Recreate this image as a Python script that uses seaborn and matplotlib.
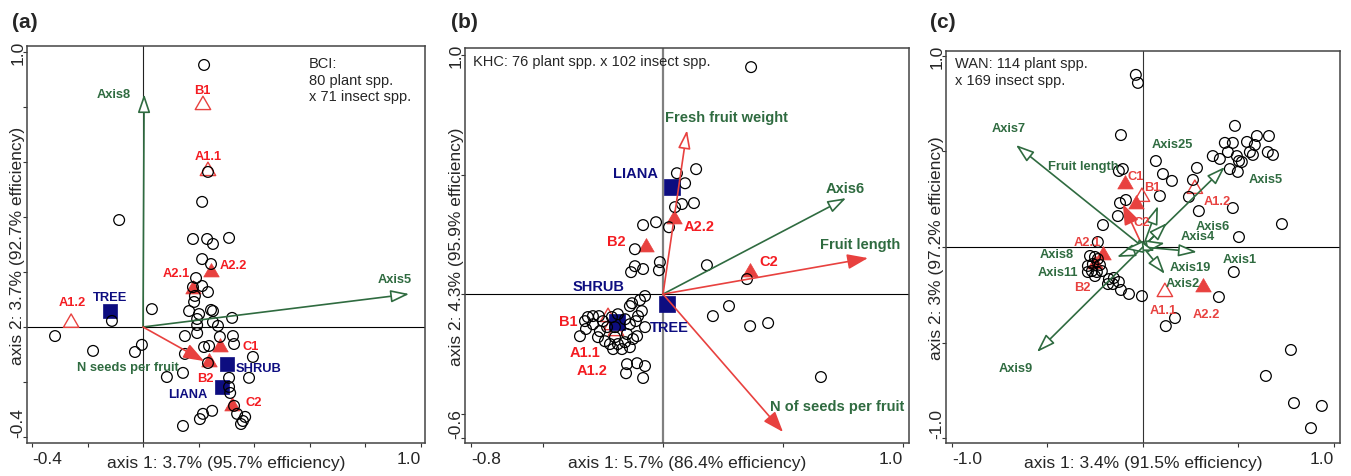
import numpy as np
import pandas as pd
import matplotlib
matplotlib.use("Agg")
import matplotlib.pyplot as plt
from matplotlib.path import Path
import seaborn as sns

# =====================================================
# STYLE
# =====================================================

sns.set_style("white")
plt.rcParams["font.family"] = ["Liberation Sans", "DejaVu Sans"]

RED = "#e8413f"
RED_TXT = "#f41c22"
GREEN = "#2f6b40"
NAVY = "#0d0d80"

# equilateral triangle marker (closed so open ones get all three edges)
TRIANGLE = Path([(0, 1), (-0.866, -0.5), (0.866, -0.5), (0, 1)], closed=True)

# =====================================================
# DATA: (a) BCI
# =====================================================

A_SPP_X = [0.220, 0.234, 0.213, -0.086, 0.180, 0.231, 0.252, 0.310, 0.213, 0.245,
           0.191, 0.180, 0.213, 0.234, 0.187, 0.184, 0.032, 0.166, 0.202, 0.245,
           0.252, -0.112, 0.195, 0.252, 0.321, 0.195, 0.270, 0.195, 0.151, 0.277,
           0.324, -0.317, -0.004, -0.029, -0.180, 0.151, 0.220, 0.238, 0.328, 0.396,
           0.234, 0.086, 0.144, 0.310, 0.382, 0.310, 0.314, 0.328, 0.339, 0.368,
           0.360, 0.353, 0.216, 0.205, 0.249, 0.144]
A_SPP_Y = [0.953, 0.564, 0.455, 0.389, 0.320, 0.320, 0.302, 0.324, 0.247, 0.229,
           0.178, 0.145, 0.149, 0.127, 0.113, 0.091, 0.065, 0.058, 0.047, 0.062,
           0.058, 0.022, 0.029, 0.018, 0.033, 0.007, 0.004, -0.022, -0.033, -0.036,
           -0.033, -0.033, -0.065, -0.091, -0.087, -0.098, -0.073, -0.069, -0.062, -0.109,
           -0.131, -0.182, -0.167, -0.185, -0.185, -0.218, -0.240, -0.287, -0.316, -0.327,
           -0.342, -0.353, -0.316, -0.335, -0.305, -0.360]
A_GUILDS = ["B1", "A1.1", "A2.1", "A2.2", "A1.2", "C1", "B2", "C2"]
A_GUILD_X = [0.216, 0.234, 0.180, 0.245, -0.259, 0.277, 0.238, 0.321]
A_GUILD_Y = [0.807, 0.567, 0.138, 0.200, 0.015, -0.073, -0.127, -0.287]
A_FORMS = ["TREE", "SHRUB", "LIANA"]
A_FORM_X = [-0.119, 0.303, 0.285]
A_FORM_Y = [0.058, -0.135, -0.218]
A_VARS = ["Axis8", "Axis5", "N seeds per fruit"]
A_VAR_X = [0.004, 0.959, 0.220]
A_VAR_Y = [0.847, 0.120, -0.124]

# =====================================================
# DATA: (b) KHC
# =====================================================

B_SPP_X = [0.367, 0.058, 0.138, 0.092, 0.079, 0.129, 0.050, -0.083, -0.029, 0.025,
           -0.117, -0.117, -0.083, -0.133, -0.013, -0.017, 0.183, 0.350, 0.275, 0.208,
           0.363, 0.438, 0.658, -0.346, -0.075, -0.096, -0.129, -0.138, -0.088, -0.104,
           -0.313, -0.292, -0.267, -0.325, -0.321, -0.292, -0.250, -0.233, -0.263, -0.213,
           -0.188, -0.158, -0.200, -0.138, -0.113, -0.075, -0.108, -0.125, -0.150, -0.200,
           -0.188, -0.158, -0.171, -0.208, -0.242, -0.271, -0.221, -0.138,
           -0.150, -0.108, -0.075, -0.154, -0.083]
B_SPP_Y = [0.950, 0.506, 0.523, 0.464, 0.377, 0.381, 0.364, 0.289, 0.301, 0.280,
           0.188, 0.117, 0.105, 0.092, 0.134, 0.100, 0.121, 0.063, -0.050, -0.092,
           -0.134, -0.121, -0.347, -0.176, -0.008, -0.025, -0.038, -0.050, -0.071, -0.092,
           -0.096, -0.092, -0.092, -0.113, -0.146, -0.126, -0.113, -0.138, -0.155, -0.096,
           -0.084, -0.105, -0.138, -0.126, -0.113, -0.138, -0.176, -0.188, -0.167, -0.180,
           -0.209, -0.201, -0.230, -0.230, -0.197, -0.180, -0.209, -0.222,
           -0.293, -0.289, -0.301, -0.331, -0.351]
B_GUILDS = ["A2.2", "B2", "C2", "B1", "A1.1", "A1.2"]
B_GUILD_X = [0.046, -0.071, 0.363, -0.229, -0.213, -0.196]
B_GUILD_Y = [0.314, 0.197, 0.092, -0.096, -0.130, -0.155]
B_FORMS = ["LIANA", "SHRUB", "TREE"]
B_FORM_X = [0.038, -0.192, 0.017]
B_FORM_Y = [0.448, -0.117, -0.042]
B_VARS = ["Fresh fruit weight", "Axis6", "Fruit length", "N of seeds per fruit"]
B_VAR_X = [0.100, 0.763, 0.854, 0.500]
B_VAR_Y = [0.686, 0.402, 0.151, -0.577]

# =====================================================
# DATA: (c) WAN
# =====================================================

C_SPP_X = [-0.037, -0.026, -0.115, 0.068, 0.105, 0.152, -0.105, -0.126, 0.089, 0.241,
           0.262, 0.283, 0.293, 0.471, -0.209, -0.131, -0.089, -0.120, 0.482, 0.429,
           0.471, 0.545, 0.597, 0.660, 0.366, 0.403, 0.445, 0.492, 0.503, 0.518,
           0.560, 0.586, 0.576, 0.654, 0.681, 0.455, 0.497, 0.728, 0.503, -0.236,
           -0.277, -0.251, -0.236, -0.262, -0.288, -0.225, -0.267, -0.241, -0.288, -0.215,
           -0.251, -0.178, -0.152, -0.126, -0.183, -0.157, -0.115, -0.073, -0.005, 0.476,
           0.398, 0.168, 0.120, 0.775, 0.644, 0.791, 0.937, 0.880]
C_SPP_Y = [0.901, 0.859, 0.586, 0.450, 0.382, 0.346, 0.408, 0.398, 0.267, 0.262,
           0.351, 0.414, 0.188, 0.204, 0.115, 0.162, 0.246, 0.230, 0.634, 0.545,
           0.545, 0.550, 0.581, 0.581, 0.476, 0.461, 0.497, 0.476, 0.450, 0.445,
           0.497, 0.534, 0.482, 0.497, 0.482, 0.408, 0.393, 0.120, 0.052, 0.026,
           -0.047, -0.052, -0.063, -0.089, -0.099, -0.094, -0.126, -0.131, -0.131, -0.126,
           -0.152, -0.168, -0.162, -0.183, -0.194, -0.194, -0.225, -0.246, -0.257, -0.131,
           -0.262, -0.372, -0.414, -0.539, -0.675, -0.817, -0.832, -0.948]
C_GUILDS = ["C1", "B1", "C2", "A1.2", "A2.1", "B2", "A1.1", "A2.2"]
C_GUILD_X = [-0.094, -0.005, -0.037, 0.272, -0.209, -0.251, 0.115, 0.314]
C_GUILD_Y = [0.330, 0.262, 0.225, 0.304, -0.042, -0.089, -0.236, -0.209]
C_FORMS = []
C_FORM_X = []
C_FORM_Y = []
C_VARS = ["Axis7", "Fruit length", "Axis25", "Axis5", "Axis6", "Axis4", "Axis1",
          "Axis19", "Axis2", "Axis8", "Axis11", "Axis9"]
C_VAR_X = [-0.665, -0.105, 0.079, 0.429, 0.126, 0.115, 0.283, 0.115, 0.063, -0.136, -0.094, -0.555]
C_VAR_Y = [0.534, 0.225, 0.215, 0.419, 0.126, 0.021, -0.026, -0.141, -0.021, -0.052, -0.010, -0.550]

# =====================================================
# LAYOUT (pixel geometry of each panel, label offsets in px)
# =====================================================

OPEN_GUILDS = {"B1", "A1.1", "A1.2"}
OPEN_HEADS = {"Fresh fruit weight"}

PANELS = [
    dict(tag="(a)", tag_x=12, box=(27, 47, 398, 397),
         xlim=(-0.418, 1.016), ylim=(-0.422, 1.022),
         xticks=[-0.4, -0.2, 0, 0.2, 0.4, 0.6, 0.8, 1.0],
         yticks=[-0.4, -0.2, 0, 0.2, 0.4, 0.6, 0.8, 1.0],
         xlabel="axis 1: 3.7% (95.7% efficiency)",
         ylabel="axis 2: 3.7% (92.7% efficiency)",
         note="BCI:\n80 plant spp.\nx 71 insect spp.", note_xy=(0.709, 0.975),
         spp=(A_SPP_X, A_SPP_Y), guilds=(A_GUILDS, A_GUILD_X, A_GUILD_Y),
         forms=(A_FORMS, A_FORM_X, A_FORM_Y), vars=(A_VARS, A_VAR_X, A_VAR_Y),
         vline=("#222222", 0.8), guild_txt=RED_TXT, fs=9.3, sq=100,
         off={"B1": (-1, 15), "A1.1": (0, 15), "A2.1": (-17, 16), "A2.2": (22, 7),
              "A1.2": (1, 21), "C1": (31, 1), "B2": (-4, -16), "C2": (22, 4),
              "TREE": (0, 14), "SHRUB": (31, -4), "LIANA": (-34, -7),
              "Axis8": (-30, 0), "Axis5": (-14, 15), "N seeds per fruit": (-76, -6)}),
    dict(tag="(b)", tag_x=451, box=(465, 49, 444, 395),
         xlim=(-0.825, 1.025), ylim=(-0.623, 1.03),
         xticks=[-0.8, -0.5, 0, 0.5, 1.0],
         yticks=[-0.6, -0.5, 0, 0.5, 1.0],
         xlabel="axis 1: 5.7% (86.4% efficiency)",
         ylabel="axis 2: 4.3% (95.9% efficiency)",
         note="KHC: 76 plant spp. x 102 insect spp.", note_xy=(0.018, 0.985),
         spp=(B_SPP_X, B_SPP_Y), guilds=(B_GUILDS, B_GUILD_X, B_GUILD_Y),
         forms=(B_FORMS, B_FORM_X, B_FORM_Y), vars=(B_VARS, B_VAR_X, B_VAR_Y),
         vline=("#808080", 1.6), guild_txt=RED_TXT, fs=10.5, sq=135,
         off={"A2.2": (25, -7), "B2": (-30, 6), "C2": (19, 11), "B1": (-40, -4),
              "A1.1": (-27, -27), "A1.2": (-24, -39),
              "LIANA": (-37, 14), "SHRUB": (-18, 36), "TREE": (2, -23),
              "Fresh fruit weight": (39, 13), "Axis6": (-1, 10),
              "Fruit length": (-8, 14), "N of seeds per fruit": (54, 26)}),
    dict(tag="(c)", tag_x=930, box=(946, 52, 394, 392),
         xlim=(-1.031, 1.032), ylim=(-1.026, 1.026),
         xticks=[-1.0, -0.5, 0, 0.5, 1.0],
         yticks=[-1.0, -0.5, 0, 0.5, 1.0],
         xlabel="axis 1: 3.4% (91.5% efficiency)",
         ylabel="axis 2: 3% (97.2% efficiency)",
         note="WAN: 114 plant spp.\nx 169 insect spp.", note_xy=(0.023, 0.987),
         spp=(C_SPP_X, C_SPP_Y), guilds=(C_GUILDS, C_GUILD_X, C_GUILD_Y),
         forms=(C_FORMS, C_FORM_X, C_FORM_Y), vars=(C_VARS, C_VAR_X, C_VAR_Y),
         vline=("#333333", 0.8), guild_txt=RED, fs=9.3, sq=100,
         off={"C1": (11, 8), "B1": (10, 10), "C2": (6, -18), "A1.2": (22, -12),
              "A2.1": (-16, 13), "B2": (-13, -23), "A1.1": (-2, -18), "A2.2": (3, -27),
              "Axis7": (-7, 17), "Fruit length": (-40, 38), "Axis25": (14, 62),
              "Axis5": (41, -12), "Axis6": (46, -3), "Axis4": (33, 7), "Axis1": (43, -7),
              "Axis19": (25, 7), "Axis2": (28, -32), "Axis8": (-60, 3),
              "Axis11": (-67, -23), "Axis9": (-21, -16)}),
]

W, H = 1351, 477


def pt(v):
    # pixels -> points at 100 dpi
    return v * 0.72


def draw_panel(fig, p):
    l, t, w, h = p["box"]
    ax = fig.add_axes([l / W, 1 - (t + h) / H, w / W, h / H])

    ax.axhline(0, color="black", lw=0.8, zorder=1)
    ax.axvline(0, color=p["vline"][0], lw=p["vline"][1], zorder=1)

    # feeding guilds (triangles), open and filled
    gnames, gx, gy = p["guilds"]
    guild_df = pd.DataFrame({"name": gnames, "x": gx, "y": gy})
    is_open = guild_df["name"].isin(OPEN_GUILDS)
    sns.scatterplot(data=guild_df[~is_open], x="x", y="y", ax=ax, marker=TRIANGLE, s=165,
                    color=RED, edgecolor=RED, linewidth=0.5, legend=False, zorder=2)
    sns.scatterplot(data=guild_df[is_open], x="x", y="y", ax=ax, marker=TRIANGLE, s=165,
                    facecolors="none", edgecolor=RED, linewidth=1.0, legend=False, zorder=2)

    # growth forms (squares)
    names, fx, fy = p["forms"]
    if names:
        sns.scatterplot(x=fx, y=fy, ax=ax, marker="s", s=p["sq"], color=NAVY,
                        edgecolor=NAVY, linewidth=0.5, legend=False, zorder=2.2)

    # insect species (open circles)
    sx, sy = p["spp"]
    sns.scatterplot(x=sx, y=sy, ax=ax, marker="o", s=60, facecolors="none",
                    edgecolor="black", linewidth=0.9, legend=False, zorder=2.5)

    # variable arrows
    vnames, vx, vy = p["vars"]
    for name, x, y in zip(vnames, vx, vy):
        col = GREEN if name.startswith("Axis") else RED
        hollow = name.startswith("Axis") or name in OPEN_HEADS
        style = ("-|>,head_length=0.8,head_width=0.27" if hollow
                 else "-|>,head_length=0.9,head_width=0.33")
        ax.annotate("", xy=(x, y), xytext=(0, 0), zorder=3,
                    arrowprops=dict(arrowstyle=style, mutation_scale=14, lw=1.2,
                                    ec=col, fc="white" if hollow else col,
                                    shrinkA=0, shrinkB=0))
        dx, dy = p["off"][name]
        ax.annotate(name, xy=(x, y), xytext=(pt(dx), pt(dy)), textcoords="offset points",
                    ha="center", va="center", fontsize=p["fs"], fontweight="bold",
                    color=GREEN, zorder=5)

    for name, x, y in zip(gnames, gx, gy):
        dx, dy = p["off"][name]
        ax.annotate(name, xy=(x, y), xytext=(pt(dx), pt(dy)), textcoords="offset points",
                    ha="center", va="center", fontsize=p["fs"], fontweight="bold",
                    color=p["guild_txt"], zorder=5)
    for name, x, y in zip(names, fx, fy):
        dx, dy = p["off"][name]
        ax.annotate(name, xy=(x, y), xytext=(pt(dx), pt(dy)), textcoords="offset points",
                    ha="center", va="center", fontsize=p["fs"], fontweight="bold",
                    color=NAVY, zorder=5)

    ax.text(p["note_xy"][0], p["note_xy"][1], p["note"], transform=ax.transAxes,
            ha="left", va="top", fontsize=10.5, linespacing=1.25)

    # axes, ticks and labels
    ax.set_xlim(*p["xlim"])
    ax.set_ylim(*p["ylim"])
    xt, yt = p["xticks"], p["yticks"]
    ax.set_xticks(xt, labels=[f"{v:.1f}" if i in (0, len(xt) - 1) else ""
                              for i, v in enumerate(xt)])
    ax.set_yticks(yt, labels=[f"{v:.1f}" if i in (0, len(yt) - 1) else ""
                              for i, v in enumerate(yt)])
    ax.tick_params(bottom=True, left=True, direction="out", length=3, width=0.8,
                   color="#333333", labelsize=12.5)
    ax.tick_params(axis="x", pad=2.5)
    ax.tick_params(axis="y", pad=3.4)
    xl = ax.get_xticklabels()
    xl[0].set_ha("left")
    xl[-1].set_ha("right")
    for lab in ax.get_yticklabels():
        lab.set_rotation(90)
        lab.set_ha("center")
        lab.set_va("center")
    ax.get_yticklabels()[0].set_va("bottom")

    ax.set_xlabel(p["xlabel"], fontsize=12.5, va="center")
    ax.xaxis.set_label_coords(0.5, -19.5 / h)
    ax.set_ylabel(p["ylabel"], fontsize=12.5, va="center")
    ax.yaxis.set_label_coords(-9 / w, 0.5)

    for s in ax.spines.values():
        s.set_color("#444444")
        s.set_linewidth(1.1)

    fig.text(p["tag_x"] / W, 1 - 22 / H, p["tag"], fontsize=15, fontweight="bold",
             ha="left", va="center")
    return ax


fig = plt.figure(figsize=(W / 100, H / 100), dpi=100)
for panel in PANELS:
    draw_panel(fig, panel)

fig.savefig("out.png", dpi=100)
